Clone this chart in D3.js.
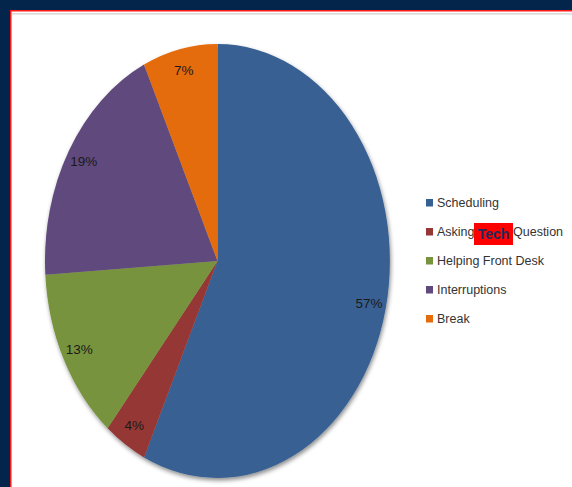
<!DOCTYPE html>
<html>
<head>
<meta charset="utf-8">
<script src="https://cdn.jsdelivr.net/npm/d3@7"></script>
<style>
  html, body { margin: 0; padding: 0; background: #03254c; }
  svg { display: block; }
</style>
</head>
<body>
<div id="chart"></div>
<script>
const categories = ['Scheduling', 'Asking Tech Question', 'Helping Front Desk', 'Interruptions', 'Break'];
const values = [57, 4, 13, 19, 7];
const colors = ['#376092', '#953735', '#77933c', '#604a7b', '#e46c0a'];

const width = 572;
const height = 487;

const svg = d3.select('#chart')
  .append('svg')
  .attr('width', width)
  .attr('height', height);

// slide frame
svg.append('rect').attr('width', width).attr('height', height).attr('fill', '#03254c');
svg.append('rect').attr('x', 10).attr('y', 10).attr('width', width - 10).attr('height', height - 10).attr('fill', '#ff1a1a');
svg.append('rect').attr('x', 11.5).attr('y', 11.5).attr('width', width - 11.5).attr('height', height - 11.5).attr('fill', '#fff');
svg.append('line').attr('x1', 12).attr('x2', width).attr('y1', 13.8).attr('y2', 13.8)
  .attr('stroke', '#cfcfcf').attr('stroke-width', 1.3);

const defs = svg.append('defs');
const f = defs.append('filter').attr('id', 'shadow')
  .attr('x', '-10%').attr('y', '-10%').attr('width', '120%').attr('height', '120%');
f.append('feDropShadow').attr('dx', 1).attr('dy', 2.5).attr('stdDeviation', 2)
  .attr('flood-color', '#000').attr('flood-opacity', 0.45);

// pie is stretched into an ellipse
const cx = 217.5, cy = 261, rx = 172.5, ry = 217;

const pie = d3.pie().sort(null).value(d => d);
const arcs = pie(values);
const arc = d3.arc().innerRadius(0).outerRadius(1);

const g = svg.append('g').attr('filter', 'url(#shadow)')
  .append('g')
  .attr('transform', `translate(${cx},${cy}) scale(${rx},${ry})`);

g.selectAll('path')
  .data(arcs)
  .join('path')
  .attr('d', arc)
  .attr('fill', (d, i) => colors[i]);

const labelArc = d3.arc().innerRadius(0.9).outerRadius(0.9);
svg.append('g')
  .selectAll('text')
  .data(arcs)
  .join('text')
  .attr('x', d => cx + labelArc.centroid(d)[0] * rx)
  .attr('y', d => cy + labelArc.centroid(d)[1] * ry)
  .attr('text-anchor', 'middle')
  .attr('dominant-baseline', 'central')
  .attr('font-family', 'Liberation Sans, Arial, sans-serif')
  .attr('font-size', '13.5px')
  .attr('fill', '#1a1a1a')
  .text(d => d.data + '%');

// legend
const legend = svg.append('g').attr('font-family', 'Liberation Sans, Arial, sans-serif');
const rowY = d3.scalePoint().domain(categories).range([203, 319]);

categories.forEach((c, i) => {
  const y = rowY(c);
  legend.append('rect')
    .attr('x', 426).attr('y', y - 4).attr('width', 7).attr('height', 7.5)
    .attr('fill', colors[i]);
  if (c === 'Asking Tech Question') {
    legend.append('text').attr('x', 437).attr('y', y)
      .attr('dominant-baseline', 'central').attr('font-size', '12.5px').attr('fill', '#333')
      .text('Asking');
    legend.append('rect').attr('x', 474).attr('y', y - 9).attr('width', 39).attr('height', 22)
      .attr('fill', '#ff0000');
    legend.append('text').attr('x', 493.5).attr('y', y + 2)
      .attr('text-anchor', 'middle').attr('dominant-baseline', 'central')
      .attr('font-size', '14px').attr('font-weight', 'bold').attr('fill', '#1c2c5c')
      .text('Tech');
    legend.append('text').attr('x', 513).attr('y', y)
      .attr('dominant-baseline', 'central').attr('font-size', '12.5px').attr('fill', '#333')
      .text('Question');
  } else {
    legend.append('text').attr('x', 437).attr('y', y)
      .attr('dominant-baseline', 'central').attr('font-size', '12.5px').attr('fill', '#333')
      .text(c);
  }
});
</script>
</body>
</html>
